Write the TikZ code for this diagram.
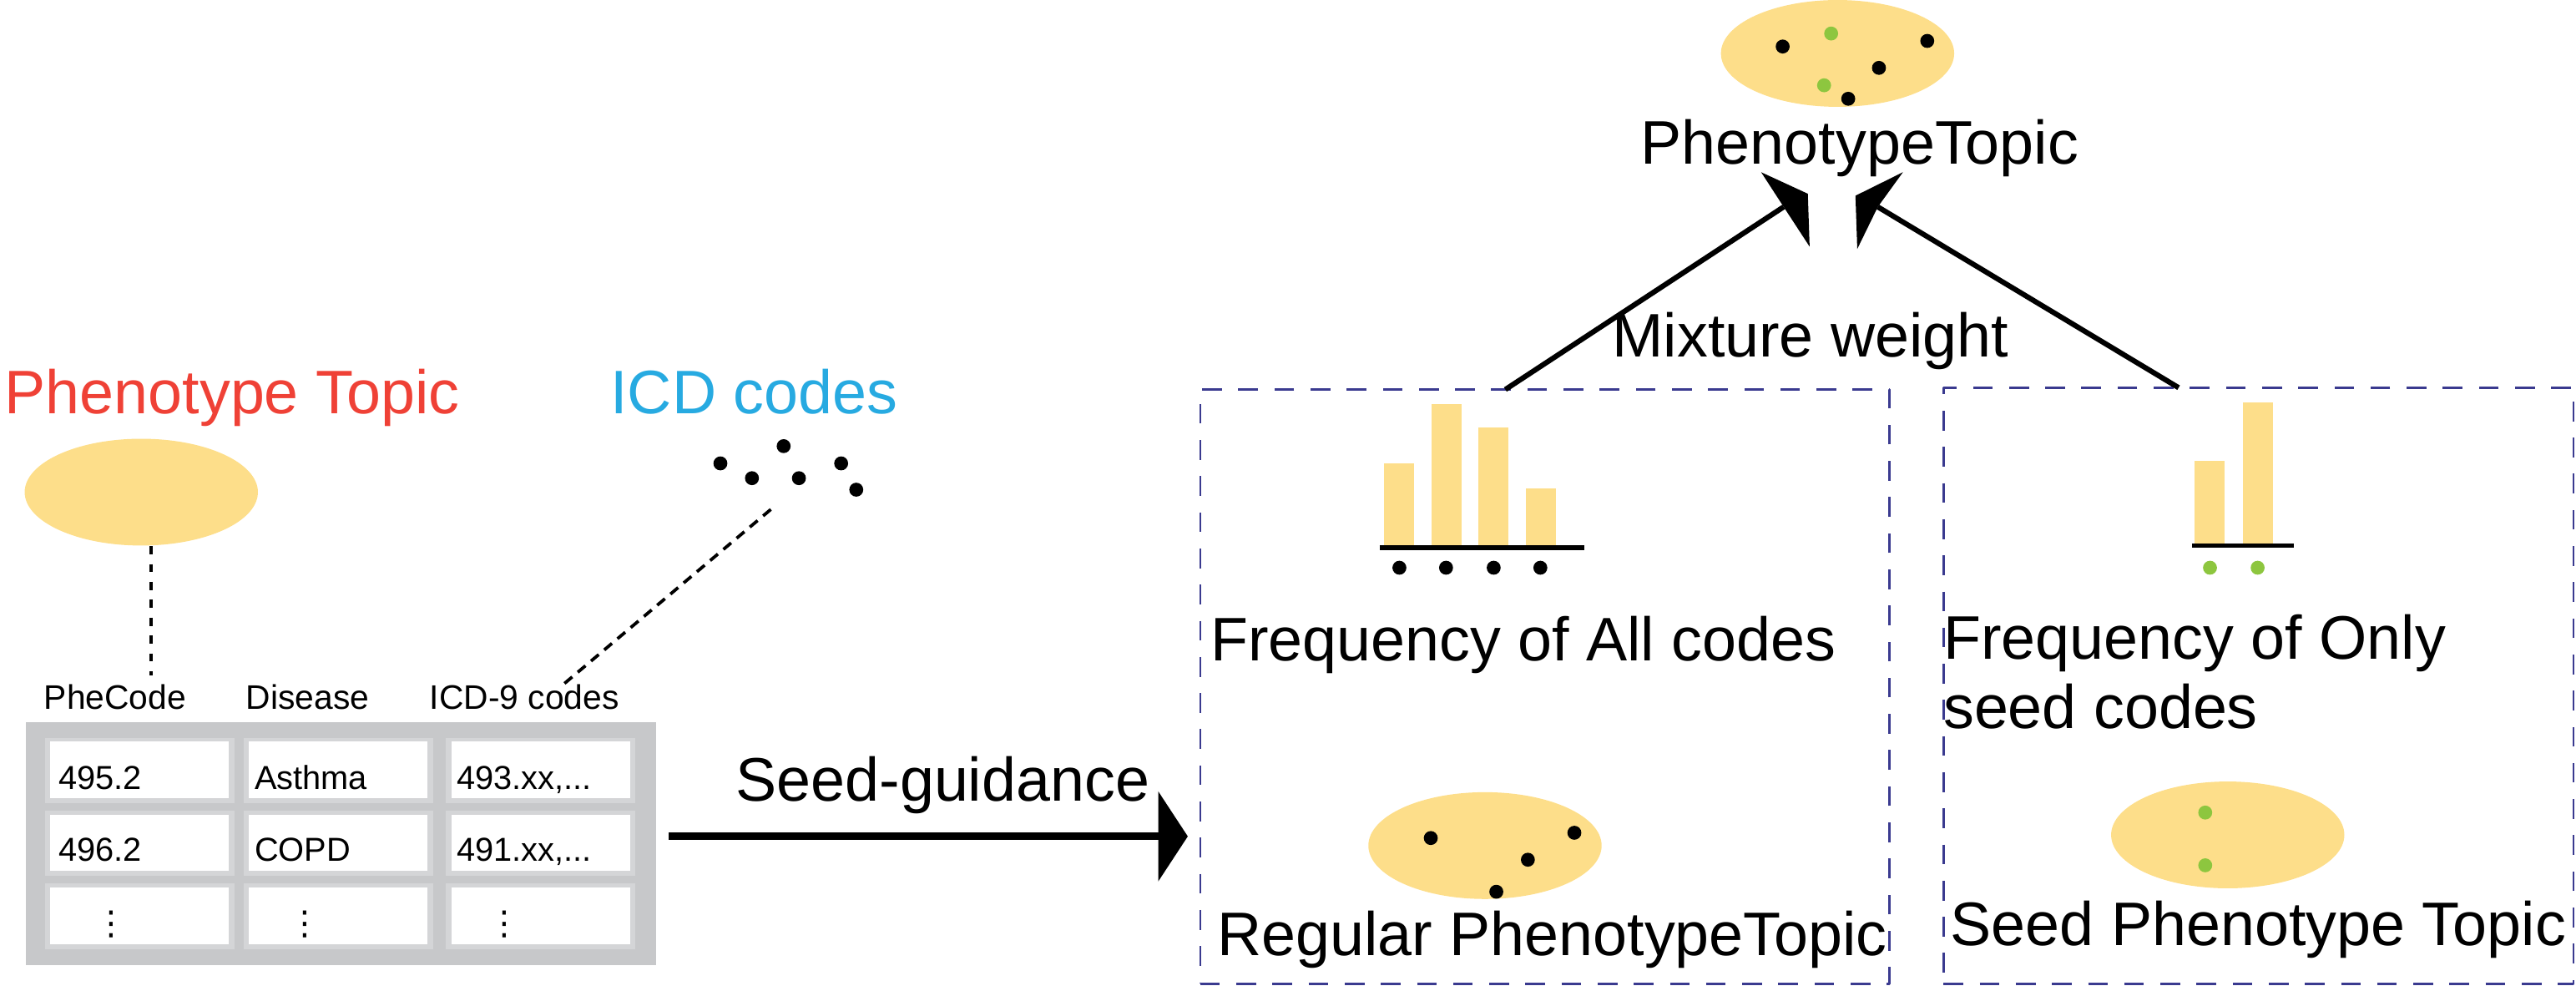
\documentclass[tikz,border=0pt]{standalone}
\usepackage{fontspec}
\setmainfont{Liberation Sans}
\newfontfamily\dotsfont{DejaVu Sans}
\usetikzlibrary{shapes.geometric,arrows.meta}
\definecolor{topicyellow}{RGB}{253,222,138}
\definecolor{topicred}{RGB}{239,65,54}
\definecolor{codeblue}{RGB}{39,170,225}
\definecolor{seedgreen}{RGB}{141,198,63}
\definecolor{boxblue}{RGB}{58,58,143}
\definecolor{tablegray}{RGB}{199,200,202}
\definecolor{cellgray}{RGB}{212,213,215}
\begin{document}
\begin{tikzpicture}[x=0.02cm,y=-0.02cm,line join=round,
	big/.style={font=\fontsize{21.3}{24}\selectfont,inner sep=0pt,anchor=base},
	head/.style={font=\fontsize{11.8}{13}\selectfont,inner sep=0pt,anchor=base west},
	cell/.style={font=\fontsize{11.5}{13}\selectfont,inner sep=0pt,anchor=base west},
	topic/.style={ellipse,fill=topicyellow,inner sep=0pt,minimum width=2.84cm,minimum height=1.3cm},
	code/.style={circle,fill=black,inner sep=0pt,minimum size=0.17cm},
	seedcode/.style={code,fill=seedgreen},
	model/.style={draw=boxblue,line width=0.7pt,dash pattern=on 0.24cm off 0.2cm,inner sep=0pt,outer sep=0pt},
	link/.style={line width=1.1pt,dash pattern=on 2.8pt off 3.4pt},
	codelink/.style={line width=1.1pt,dash pattern=on 3.5pt off 2.5pt},
	mix/.style={line width=1.8pt}]
	\useasboundingbox (0,0) rectangle (1568,600);
	% left: topic, codes and table
	\node[big,text=topicred] (ptitle) at (141.3,252) {Phenotype Topic};
	\node[big,text=codeblue] (ctitle) at (459,252) {ICD codes};
	\node[topic] (ptopic) at (86,299.5) {};
	\foreach \x/\y [count=\i] in {438.5/282,457.7/291,477/271.5,486.3/291,512/282,521.2/298}
	\node[code] (icd\i) at (\x,\y) {};
	\node[fill=tablegray,minimum width=7.672cm,minimum height=2.956cm,inner sep=0pt,outer sep=0pt] (table) at (207.4,513.5) {};
	\foreach \x in {30.6,151.6,274.8}
	\foreach \y in {451.4,495.7,540.3}{
		\fill[cellgray] (\x-3.4,\y-2.5) rectangle (\x+112,\y+37.2);
		\fill[white] (\x,\y) rectangle (\x+108.7,\y+34.4);}
	\node[head] (hcode) at (26.5,431.4) {PheCode};
	\node[head] (hdisease) at (149.5,431.4) {Disease};
	\node[head] (hicd) at (261.3,431.4) {ICD-9 codes};
	\node[cell] (c11) at (35.5,480.2) {495.2};
	\node[cell] (c12) at (154.7,480.2) {Asthma};
	\node[cell] (c13) at (277.7,480.2) {493.xx,...};
	\node[cell] (c21) at (35.5,524.2) {496.2};
	\node[cell] (c22) at (154.7,524.2) {COPD};
	\node[cell] (c23) at (277.7,524.2) {491.xx,...};
	\foreach \x [count=\i] in {67.9,185.6,307.2}
	\node[font=\dotsfont\fontsize{11.5}{13}\selectfont,inner sep=0pt] (c3\i) at (\x,562.4) {⋮};
	\coordinate (pcend) at (92,411);
	\coordinate (cstart) at (469.2,310);
	\coordinate (cend) at (343.5,416);
	\draw[link] (ptopic.south -| pcend) -- (pcend);
	\draw[codelink] (cstart) -- (cend);
	% seed guidance
	\coordinate (gtip) at (723,509);
	\draw[line width=2.6pt,shorten <=0.16cm,-{Triangle[length=0.36cm,width=1.08cm]}] (table.east |- gtip) -- (gtip);
	\node[big] (guide) at (573.8,487.3) {Seed-guidance};
	% right: the two topic kinds
	\node[model,minimum width=8.394cm,minimum height=7.236cm] (allbox) at (940.35,417.9) {};
	\node[model,minimum width=7.67cm,minimum height=7.258cm] (seedbox) at (1374.75,417.35) {};
	\foreach \x/\h in {842.5/281.9,871.5/246.1,900/260.1,929/297.1}
	\fill[topicyellow] (\x,\h) rectangle (\x+18.2,333.3);
	\draw[line width=1.7pt] (839.8,333.3) -- (964.3,333.3);
	\foreach \x [count=\i] in {851.8,880.2,909.2,937.6}
	\node[code] (all\i) at (\x,345.5) {};
	\foreach \x/\h in {1335.9/280.5,1365.4/244.9}
	\fill[topicyellow] (\x,\h) rectangle (\x+18.2,332);
	\draw[line width=1.7pt] (1334.2,332) -- (1396,332);
	\foreach \x [count=\i] in {1345.2,1374.2}
	\node[seedcode] (seed\i) at (\x,345.5) {};
	\node[big] (alltext) at (927.2,402.3) {Frequency of All codes};
	\node[big,anchor=base west,align=left] (seedtext) at (1182.6,443.4) {Frequency of Only\\seed codes};
	\node[topic] (regtopic) at (903.9,514.6) {};
	\foreach \x/\y [count=\i] in {870.9/510,958.3/506.8,930/523.2,910.8/542.7}
	\node[code] (reg\i) at (\x,\y) {};
	\node[big] (regtext) at (944.9,581.7) {Regular PhenotypeTopic};
	\node[topic] (seedtopic) at (1356,508.1) {};
	\node[seedcode] (sd1) at (1342.3,494.5) {};
	\node[seedcode] (sd2) at (1342.3,526.6) {};
	\node[big] (seedtopictext) at (1374.6,575.5) {Seed Phenotype Topic};
	% top: mixture
	\node[topic] (phenotopic) at (1118.5,32.5) {};
	\foreach \x/\y [count=\i] in {1085.1/28.3,1173.1/24.9,1143.7/41.3,1125/60.1}
	\node[code] (mixc\i) at (\x,\y) {};
	\node[seedcode] (mixs1) at (1114.6,20.4) {};
	\node[seedcode] (mixs2) at (1110.3,51.9) {};
	\node[big] (phenotext) at (1132,99.8) {PhenotypeTopic};
	\node[big] (mixtext) at (1102,217) {Mixture weight};
	\coordinate (lhead) at (1085.7,125.9);
	\coordinate (rhead) at (1143,125.9);
	\draw[mix] ([xshift=3.716cm]allbox.north west) -- (lhead);
	\draw[mix] ([xshift=2.862cm]seedbox.north west) -- (rhead);
	\fill (1072,104.8) -- (1100.4,117.9) -- (1101.5,150.1) -- (lhead) -- cycle;
	\fill (1158.3,104.8) -- (1129.4,119.1) -- (1130.5,151.5) -- (rhead) -- cycle;
\end{tikzpicture}
\end{document}
